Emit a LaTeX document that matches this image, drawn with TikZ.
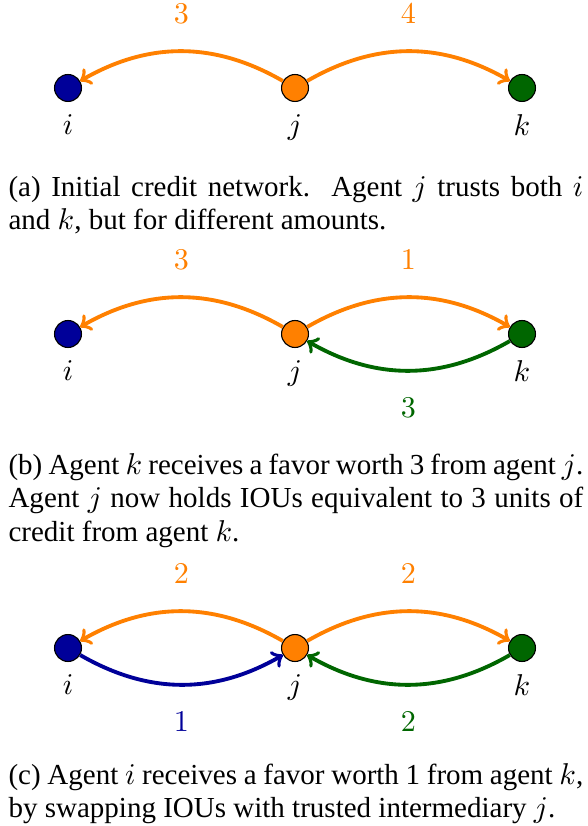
\documentclass[tikz,border=0pt]{standalone}
\usepackage{fontspec}
\setmainfont{Liberation Serif}
\usetikzlibrary{arrows}

\definecolor{agentblue}{RGB}{0,0,153}
\definecolor{agentorange}{RGB}{255,128,0}
\definecolor{agentgreen}{RGB}{0,102,0}

\begin{document}
\begin{tikzpicture}[x=0.3636pt, y=0.3636pt,
	agent/.style={circle, draw=black, line width=0.4pt, minimum size=9.8pt, inner sep=0pt},
	credit/.style={->, line width=1.4pt},
	amount/.style={font=\fontsize{11}{13}\selectfont},
	every label/.style={font=\fontsize{10.5}{12}\selectfont},
	caption/.style={anchor=north west, inner sep=0pt, text width=209pt, align=justify, font=\fontsize{10.55}{12.1}\selectfont}]
	\useasboundingbox (0, 0) rectangle (587, -826);

	% (a) initial network
	\node[agent, fill=agentblue, label={[label distance=1.2pt]below:$i$}] (ia) at (68, -88) {};
	\node[agent, fill=agentorange, label={[label distance=1.2pt]below:$j$}] (ja) at (295, -88) {};
	\node[agent, fill=agentgreen, label={[label distance=1.2pt]below:$k$}] (ka) at (522, -88) {};

	\draw[credit, agentorange] (ja) to[bend right=30] node[amount, above=6pt] {$3$} (ia);
	\draw[credit, agentorange] (ja) to[bend left=30] node[amount, above=6pt] {$4$} (ka);

	\node[caption] (capa) at (8, -176) {(a) Initial credit network.\ \ Agent $j$ trusts both $i$\linebreak and $k$, but for different amounts.};

	% (b) k receives a favor
	\node[agent, fill=agentblue, label={[label distance=1.2pt]below:$i$}] (ib) at (68, -334) {};
	\node[agent, fill=agentorange, label={[label distance=1.2pt]below:$j$}] (jb) at (295, -334) {};
	\node[agent, fill=agentgreen, label={[label distance=1.2pt]below:$k$}] (kb) at (522, -334) {};

	\draw[credit, agentorange] (jb) to[bend right=30] node[amount, above=6pt] {$3$} (ib);
	\draw[credit, agentorange] (jb) to[bend left=30] node[amount, above=6pt] {$1$} (kb);
	\draw[credit, agentgreen] (kb) to[bend left=30] node[amount, below=6pt] {$3$} (jb);

	\node[caption] (capb) at (8, -453) {(b) Agent $k$ receives a favor worth 3 from agent $j$.\linebreak Agent $j$ now holds IOUs equivalent to 3 units of\linebreak credit from agent $k$.};

	% (c) i receives a favor via j
	\node[agent, fill=agentblue, label={[label distance=1.2pt]below:$i$}] (ic) at (68, -648) {};
	\node[agent, fill=agentorange, label={[label distance=1.2pt]below:$j$}] (jc) at (295, -648) {};
	\node[agent, fill=agentgreen, label={[label distance=1.2pt]below:$k$}] (kc) at (522, -648) {};

	\draw[credit, agentorange] (jc) to[bend right=30] node[amount, above=6pt] {$2$} (ic);
	\draw[credit, agentorange] (jc) to[bend left=30] node[amount, above=6pt] {$2$} (kc);
	\draw[credit, agentblue] (ic) to[bend right=30] node[amount, below=6pt] {$1$} (jc);
	\draw[credit, agentgreen] (kc) to[bend left=30] node[amount, below=6pt] {$2$} (jc);

	\node[caption] (capc) at (8, -763) {(c) Agent $i$ receives a favor worth 1 from agent $k$,\linebreak by swapping IOUs with trusted intermediary $j$.};
\end{tikzpicture}
\end{document}
